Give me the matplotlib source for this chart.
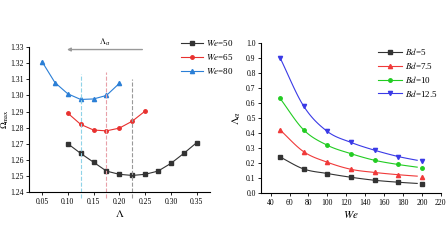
import numpy as np
import matplotlib
matplotlib.use("Agg")
import matplotlib.pyplot as plt

plt.rcParams['font.family'] = ['Liberation Serif', 'DejaVu Serif']
plt.rcParams['mathtext.fontset'] = 'stix'

# left panel: Omega_max vs Lambda
lam_50 = [0.100, 0.125, 0.150, 0.175, 0.200, 0.225, 0.250, 0.275, 0.300, 0.325, 0.350]
om_50 = [1.270, 1.264, 1.2585, 1.253, 1.251, 1.2503, 1.251, 1.253, 1.2578, 1.264, 1.2707]
lam_65 = [0.100, 0.125, 0.150, 0.175, 0.200, 0.225, 0.250]
om_65 = [1.289, 1.282, 1.2785, 1.278, 1.2797, 1.284, 1.2903]
lam_80 = [0.050, 0.075, 0.100, 0.125, 0.150, 0.175, 0.200]
om_80 = [1.321, 1.308, 1.301, 1.2975, 1.2978, 1.300, 1.3075]
lam_opt = [0.125, 0.175, 0.225]

# right panel: Lambda_alpha vs We
we = [50, 75, 100, 125, 150, 175, 200]
bd_5 = [0.24, 0.16, 0.13, 0.105, 0.085, 0.072, 0.062]
bd_75 = [0.42, 0.275, 0.205, 0.158, 0.137, 0.122, 0.110]
bd_10 = [0.63, 0.42, 0.318, 0.262, 0.218, 0.190, 0.168]
bd_125 = [0.90, 0.578, 0.41, 0.337, 0.285, 0.243, 0.212]


def smooth(x, y, n=20):
    # catmull-rom through the points, just for a smooth drawn line
    x = np.asarray(x, float)
    y = np.asarray(y, float)
    px = np.concatenate([[2 * x[0] - x[1]], x, [2 * x[-1] - x[-2]]])
    py = np.concatenate([[2 * y[0] - y[1]], y, [2 * y[-1] - y[-2]]])
    xs, ys = [], []
    t = np.linspace(0, 1, n, endpoint=False)
    for i in range(1, len(px) - 2):
        for p, out in ((px, xs), (py, ys)):
            p0, p1, p2, p3 = p[i - 1], p[i], p[i + 1], p[i + 2]
            out.extend(0.5 * (2 * p1 + (-p0 + p2) * t + (2 * p0 - 5 * p1 + 4 * p2 - p3) * t ** 2
                              + (-p0 + 3 * p1 - 3 * p2 + p3) * t ** 3))
    xs.append(x[-1])
    ys.append(y[-1])
    return np.array(xs), np.array(ys)


def style(ax):
    ax.spines['top'].set_visible(False)
    ax.spines['right'].set_visible(False)
    for s in ('left', 'bottom'):
        ax.spines[s].set_linewidth(0.8)
    ax.tick_params(labelsize=5.5, length=2.5, width=0.6, direction='out', pad=1.5)


fig = plt.figure(figsize=(4.48, 2.52), dpi=100)

# ---- left
ax1 = fig.add_axes([0.065, 0.238, 0.404, 0.575])
style(ax1)
ax1.plot(lam_50, om_50, '-s', color='#333333', ms=2.5, lw=0.8, label='$We$=50')
ax1.plot(lam_65, om_65, '-o', color='#e8312f', ms=2.5, lw=0.8, label='$We$=65')
ax1.plot(lam_80, om_80, '-^', color='#2b7fd6', ms=3, lw=0.8, label='$We$=80')
vcols = ['#8fd3e8', '#e8a0a8', '#999999']
vtops = [1.3135, 1.3145, 1.310]
for xv, c, yt in zip(lam_opt, vcols, vtops):
    ax1.plot([xv, xv], [1.2365, yt], ls='--', color=c, lw=0.8, clip_on=False)
ax1.annotate('', xy=(0.093, 1.3285), xytext=(0.25, 1.3285),
             arrowprops=dict(arrowstyle='-|>', color='#999999', lw=1.0, mutation_scale=5),
             annotation_clip=False)
ax1.text(0.172, 1.3295, r'$\Lambda_\alpha$', fontsize=6, ha='center', va='bottom')
ax1.set_xlim(0.025, 0.376)
ax1.set_ylim(1.24, 1.33)
ax1.set_xticks([0.05, 0.10, 0.15, 0.20, 0.25, 0.30, 0.35])
ax1.set_xticklabels(['0.05', '0.10', '0.15', '0.20', '0.25', '0.30', '0.35'])
ax1.set_yticks(np.arange(1.24, 1.3301, 0.01))
ax1.set_yticklabels(['%.2f' % v for v in np.arange(1.24, 1.3301, 0.01)])
ax1.set_xlabel(r'$\Lambda$', fontsize=8, labelpad=2)
ax1.set_ylabel(r'$\Omega_{\mathrm{max}}$', fontsize=6.5)
ax1.yaxis.set_label_coords(-0.1, 0.5)
ax1.legend(loc='upper left', bbox_to_anchor=(0.82, 1.09), frameon=False, fontsize=6.5,
           handlelength=2.4, handletextpad=0.3, labelspacing=0.45, borderaxespad=0)

# ---- right
ax2 = fig.add_axes([0.583, 0.234, 0.401, 0.596])
style(ax2)
series = [(bd_5, 's', '#333333', '$Bd$=5', 2.5),
          (bd_75, '^', '#f03a3a', '$Bd$=7.5', 3),
          (bd_10, 'o', '#22cc22', '$Bd$=10', 2.5),
          (bd_125, 'v', '#3a3ae6', '$Bd$=12.5', 3)]
for ys, m, c, lab, ms in series:
    sx, sy = smooth(we, ys)
    keep = sx <= 195
    ax2.plot(sx[keep], sy[keep], '-', color=c, lw=0.8)
    ax2.plot(we, ys, m, color=c, ms=ms, ls='none')
    ax2.plot([], [], '-' + m, color=c, ms=ms, lw=0.8, label=lab)
ax2.set_xlim(30, 220)
ax2.set_ylim(0, 1.0)
ax2.set_xticks(range(40, 221, 20))
ax2.set_yticks(np.arange(0, 1.01, 0.1))
ax2.set_yticklabels(['%.1f' % v for v in np.arange(0, 1.01, 0.1)])
ax2.set_xlabel('$We$', fontsize=8, labelpad=2)
ax2.set_ylabel(r'$\Lambda_\alpha$', fontsize=8, labelpad=2)
ax2.legend(loc='upper right', bbox_to_anchor=(1.0, 1.0), frameon=False, fontsize=6.5,
           handlelength=2.6, handletextpad=0.3, labelspacing=0.3, borderaxespad=0)

fig.savefig('out.png', dpi=100)
